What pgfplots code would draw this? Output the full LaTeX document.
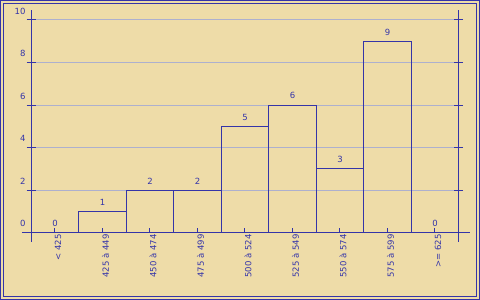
\documentclass[border=0pt]{standalone}
\usepackage{fontspec}
\setmainfont{DejaVu Sans}
\usepackage{pgfplots}
\pgfplotsset{compat=1.18}
\definecolor{wood}{HTML}{EEDCA8}
\definecolor{navy}{HTML}{3434A8}
\definecolor{gridc}{HTML}{ADB0CE}
\begin{document}
\begin{tikzpicture}[x=1pt,y=1pt]
\path[use as bounding box] (0,0) rectangle (480,300);
\fill[wood] (0,0) rectangle (480,300);
\draw[navy, line width=1pt] (0.5,0.5) rectangle (479.5,299.5);
\draw[navy, line width=1pt] (3.5,3.5) rectangle (476.5,296.5);
\begin{axis}[
  at={(31.25pt,58pt)}, anchor=south west, scale only axis,
  width=427.5pt, height=232pt,
  xmin=-0.5, xmax=8.5, ymin=-0.437, ymax=10.47,
  /pgf/number format/assume math mode=true,
  axis x line=middle, axis y line=box,
  axis line style={navy, line width=1pt},
  x axis line style={-, shorten <=-9.25pt, shorten >=-11.5pt},
  tick align=center, major tick length=9pt, minor tick length=8pt,
  every tick/.style={navy, line width=1pt},
  ytick={0,2,...,10}, ymajorgrids,
  grid style={gridc, line width=1pt},
  xtick=\empty, minor xtick={0.5,1.5,...,7.5},
  extra x ticks={0,1,...,8},
  extra x tick labels={\mbox{< 425},\mbox{425 à 449},\mbox{450 à 474},\mbox{475 à 499},\mbox{500 à 524},\mbox{525 à 549},\mbox{550 à 574},\mbox{575 à 599},\mbox{>= 625}},
  extra x tick style={tick align=inside, major tick length=5pt,
     xticklabel style={xshift=3pt, yshift=-1.5pt, rotate=90, anchor=east, inner sep=0pt}},
  every tick label/.append style={font=\fontsize{8.5}{10}\selectfont, text=navy},
  yticklabel style={anchor=south east, inner sep=0pt, xshift=-1pt, yshift=5.5pt},
  yticklabel pos=left,
  clip=false,
]
\addplot[ybar, bar width=1, color=navy, fill=none, line width=1pt,
  nodes near coords,
  every node near coord/.append style={font=\fontsize{8.5}{10}\selectfont, text=navy, inner sep=0pt, anchor=south, yshift=5.5pt}]
  coordinates {(0,0) (1,1) (2,2) (3,2) (4,5) (5,6) (6,3) (7,9) (8,0)};
\end{axis}
\end{tikzpicture}
\end{document}
